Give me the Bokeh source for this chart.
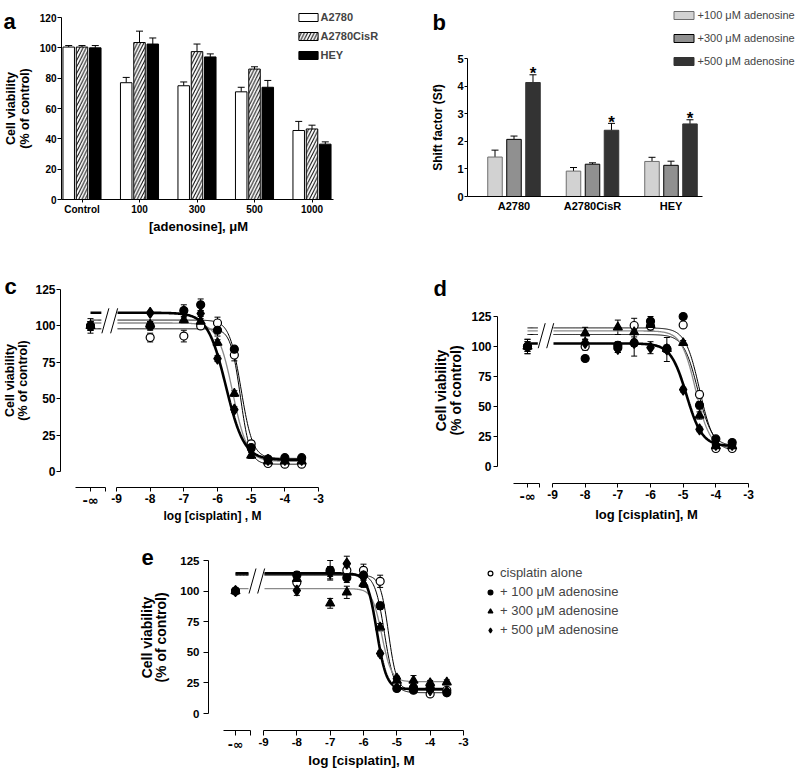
import numpy as np
from bokeh.plotting import figure
from bokeh.models import (ColumnDataSource, FixedTicker, LinearAxis, Range1d, Whisker,
                          TeeHead, Legend, LegendItem, Label, CanvasTexture, Plot)
from bokeh.core.properties import value
from bokeh.layouts import column, row
from bokeh.embed import file_html
from bokeh.resources import INLINE

FONT = "Liberation Sans"

# ---------------- panel a data ----------------
adenosine_labels = ["Control", "100", "300", "500", "1000"]
a_series = ["A2780", "A2780CisR", "HEY"]
a2780_viab = [100.5, 77.0, 75.0, 71.0, 45.5]
a2780_err = [1.0, 3.5, 2.5, 3.0, 6.0]
cisr_viab = [100.5, 103.5, 97.5, 86.0, 46.5]
cisr_err = [1.0, 7.5, 5.0, 1.5, 2.5]
hey_viab = [100.0, 102.5, 94.0, 74.0, 36.5]
hey_err = [1.5, 4.0, 2.0, 4.5, 1.5]
a_yticks = [0, 20, 40, 60, 80, 100, 120]

# ---------------- panel b data ----------------
cell_lines = ["A2780", "A2780CisR", "HEY"]
b_series = ["+100 \u03bcM adenosine", "+300 \u03bcM adenosine", "+500 \u03bcM adenosine"]
sf_100 = [1.43, 0.92, 1.27]
sf_100_err = [0.25, 0.13, 0.15]
sf_300 = [2.07, 1.17, 1.13]
sf_300_err = [0.12, 0.05, 0.15]
sf_500 = [4.13, 2.40, 2.63]
sf_500_err = [0.28, 0.25, 0.15]
sf_500_sig = ["*", "*", "*"]
b_yticks = [0, 1, 2, 3, 4, 5]

# ---------------- panels c-e data ----------------
log_cisplatin = [-np.inf, -8, -7, -6.5, -6, -5.5, -5, -4.5, -4, -3.5]
x_tick_values = [-9, -8, -7, -6, -5, -4, -3]
x_tick_labels = ["-9", "-8", "-7", "-6", "-5", "-4", "-3"]
inf_tick_label = "-\u221e"
viab_yticks = [0, 25, 50, 75, 100, 125]
treatments = ["cisplatin alone", "+ 100 \u03bcM adenosine",
              "+ 300 \u03bcM adenosine", "+ 500 \u03bcM adenosine"]

# c (A2780)
c_alone = [100, 92, 93, 100, 102, 80, 19, 5.5, 5, 5]
c_alone_err = [3, 3, 4, 2, 4, 4, 2, 1, 1, 1]
c_ado100 = [100, 100, 110.5, 114.5, 97, 84, 16.5, 8.5, 9.5, 9.5]
c_ado100_err = [5, 3, 4, 4, 4, 2, 2, 1, 1, 1]
c_ado300 = [100, 101, 104, 103, 88.5, 53.5, 11, 7, 7, 7]
c_ado300_err = [3, 2, 2, 2, 2, 2, 2, 1, 1, 1]
c_ado500 = [100, 109, 110, 108.5, 77.5, 42.5, 15, 8, 8, 8]
c_ado500_err = [3, 1, 2, 2, 2, 2, 1, 1, 1, 1]
# fitted curve parameters: top, bottom, logIC50, hill
c_fit_alone = [98, 5, -5.32, 3.0]
c_fit_ado100 = [104, 9, -5.3, 2.5]
c_fit_ado300 = [102, 7, -5.55, 2.0]
c_fit_ado500 = [109, 8, -5.75, 1.6]

# d (A2780CisR)
d_alone = [100, 100, 99, 117.5, 117, 98, 118, 60, 15, 15]
d_alone_err = [6, 3, 4, 6, 4, 3, 2, 3, 2, 2]
d_ado100 = [100, 90, 101, 103, 121, 98, 125, 51, 23, 20]
d_ado100_err = [6, 2, 3, 3, 4, 3, 2, 3, 2, 2]
d_ado300 = [100, 111, 116, 112, 118, 98, 103, 42.5, 17, 17]
d_ado300_err = [4, 5, 6, 4, 4, 3, 2, 3, 2, 2]
d_ado500 = [100, 103, 98, 103, 99, 97.5, 64, 31, 18, 18]
d_ado500_err = [4, 3, 3, 11, 5, 10, 2, 2, 2, 2]
d_fit_alone = [115.5, 13, -4.5, 2.0]
d_fit_ado100 = [110, 17, -4.55, 2.0]
d_fit_ado300 = [113, 15, -4.62, 2.0]
d_fit_ado500 = [102.5, 17, -4.9, 1.8]

# e (HEY)
e_alone = [100, 107, 116, 117, 117, 108, 24, 21, 16, 19]
e_alone_err = [2, 3, 4, 3, 5, 5, 2, 2, 2, 2]
e_ado100 = [100, 113, 117, 111, 113, 88, 20.5, 19, 21, 17]
e_ado100_err = [2, 3, 8, 4, 3, 3, 2, 2, 2, 2]
e_ado300 = [100, 110, 90, 99, 106, 70.5, 27, 27, 25, 25.5]
e_ado300_err = [2, 3, 4, 5, 3, 3, 3, 4, 2, 2]
e_ado500 = [100, 100.5, 115, 122.5, 112, 49, 28.5, 22, 19, 18]
e_ado500_err = [2, 4, 5, 6, 3, 2, 2, 2, 2, 2]
e_fit_alone = [113, 19, -5.25, 3.5]
e_fit_ado100 = [114, 17, -5.37, 3.0]
e_fit_ado300 = [102, 26, -5.45, 3.0]
e_fit_ado500 = [114.5, 20, -5.6, 3.0]

CURVE_GAP = (-9.45, -8.97)
SLASH_X = [-9.33, -9.07]
EXTRA = {"frame_align": False} if "frame_align" in Plot.properties() else {}


def logistic(x, top, bottom, logec50, hill):
    return bottom + (top - bottom) / (1 + 10 ** ((x - logec50) * hill))


class Geo:
    """Maps page pixels of the picture to data values of one panel."""
    def __init__(self, ox, oy, w, h, px0, vx0, ppx, py0, vy0, ppy):
        self.ox, self.oy, self.w, self.h = ox, oy, w, h
        self.px0, self.vx0, self.ppx = px0, vx0, ppx
        self.py0, self.vy0, self.ppy = py0, vy0, ppy

    def x(self, px):
        return self.vx0 + (px - self.px0) / self.ppx

    def y(self, py):
        return self.vy0 - (py - self.py0) / self.ppy

    @property
    def xr(self):
        return (self.x(self.ox), self.x(self.ox + self.w))

    @property
    def yr(self):
        return (self.y(self.oy + self.h), self.y(self.oy))

    def loc(self, px, py):
        return (px - self.ox, self.oy + self.h - py)


def make_fig(g):
    p = figure(width=g.w, height=g.h, x_range=Range1d(*g.xr), y_range=Range1d(*g.yr),
               output_backend="svg", toolbar_location=None,
               x_axis_location=None, y_axis_location=None, min_border=0, **EXTRA)
    p.min_border_left = p.min_border_right = p.min_border_top = p.min_border_bottom = 0
    for gr in p.grid:
        gr.visible = False
    p.outline_line_color = None
    p.background_fill_color = "white"
    p.border_fill_color = "white"
    return p


def add_axis(p, side, loc, bounds, ticks, size, tick_out=4, standoff=2,
             overrides=None, minor=None, font=FONT):
    ax = LinearAxis(fixed_location=loc, bounds=bounds,
                    ticker=FixedTicker(ticks=ticks, minor_ticks=minor or []))
    if overrides:
        ax.major_label_overrides = overrides
    ax.axis_line_color = "black"
    ax.axis_line_width = 1
    ax.major_tick_line_color = "black"
    ax.major_tick_out = tick_out
    ax.major_tick_in = 0
    ax.minor_tick_line_color = "black" if minor else None
    ax.minor_tick_out = tick_out
    ax.minor_tick_in = 0
    ax.major_label_text_font = font
    ax.major_label_text_font_style = "bold"
    ax.major_label_text_font_size = f"{size}px"
    ax.major_label_text_color = "black"
    ax.major_label_standoff = standoff
    p.add_layout(ax, side)
    return ax


def text(p, g, px, py, txt, size, style="bold", angle=0.0, align="center", baseline="middle"):
    p.add_layout(Label(x=g.x(px), y=g.y(py), text=txt, angle=angle,
                       text_font=FONT, text_font_size=f"{size}px", text_font_style=style,
                       text_color="black", text_align=align, text_baseline=baseline))


# ================= panel a =================
GA = Geo(0, 0, 400, 240, 81.5, 0, 57.5, 199, 0, 182 / 120)
pa = make_fig(GA)
idx = list(range(len(adenosine_labels)))
bar_w_a, bar_off_a = 0.2, 0.231
a_vals = [a2780_viab, cisr_viab, hey_viab]
a_errs = [a2780_err, cisr_err, hey_err]
a_styles = [dict(fill_color="white"),
            dict(fill_color="white", hatch_pattern="/", hatch_color="black",
                 hatch_scale=6.5, hatch_weight=1),
            dict(fill_color="black")]
items_a = []
for k, (name, vals, errs, st) in enumerate(zip(a_series, a_vals, a_errs, a_styles)):
    xs = [i + (k - 1) * bar_off_a for i in idx]
    src = ColumnDataSource(dict(x=xs, top=vals, upper=[v + e for v, e in zip(vals, errs)]))
    pa.add_layout(Whisker(source=src, base="x", upper="upper", lower="top", dimension="height",
                          line_color="black", line_width=1, level="underlay",
                          upper_head=TeeHead(size=7, line_color="black", line_width=1),
                          lower_head=None))
    r = pa.vbar(x="x", top="top", bottom=0, width=bar_w_a, source=src,
                line_color="black", line_width=1, **st)
    items_a.append(LegendItem(label=name, renderers=[r]))

add_axis(pa, "below", 0, (GA.x(61), GA.x(333)), idx, 10, tick_out=3, standoff=1,
         overrides={i: lab for i, lab in zip(idx, adenosine_labels)})
add_axis(pa, "left", GA.x(61), (0, 120), a_yticks, 10, tick_out=4, standoff=1)
text(pa, GA, 198, 226, "[adenosine], \u03bcM", 13)
text(pa, GA, 10.5, 108, "Cell viability", 12.5, angle=np.pi / 2)
text(pa, GA, 24.5, 108, "(% of control)", 12.5, angle=np.pi / 2)
text(pa, GA, 3, 21, "a", 22, align="left", baseline="alphabetic")
pa.add_layout(Legend(items=items_a, location=GA.loc(295.6, 61), glyph_width=24, glyph_height=10,
                     label_height=10, spacing=7, padding=0, margin=0, label_standoff=1,
                     label_text_font=FONT, label_text_font_size="11px",
                     label_text_font_style="bold", border_line_color=None,
                     background_fill_alpha=0))

# ================= panel b =================
GB = Geo(400, 0, 396, 240, 513.5, 0, 78.5, 196, 0, 27.6)
pb = make_fig(GB)
idx_b = list(range(len(cell_lines)))
bar_w_b, bar_off_b = 0.185, 0.242
b_vals = [sf_100, sf_300, sf_500]
b_errs = [sf_100_err, sf_300_err, sf_500_err]
checker = CanvasTexture(code="""
const h = scale / 2;
ctx.fillStyle = 'white'; ctx.fillRect(0, 0, scale, scale);
ctx.fillStyle = 'black'; ctx.fillRect(0, 0, h, h); ctx.fillRect(h, h, h, h);
""")
b_styles = [dict(fill_color="#d2d2d2", line_color="#6e6e6e"),
            dict(fill_color="white", line_color="black", hatch_pattern=value("checker"),
                 hatch_extra={"checker": checker}, hatch_scale=8),
            dict(fill_color="#333333", line_color="#333333")]
items_b = []
for k, (name, vals, errs, st) in enumerate(zip(b_series, b_vals, b_errs, b_styles)):
    xs = [i + (k - 1) * bar_off_b for i in idx_b]
    src = ColumnDataSource(dict(x=xs, top=vals, upper=[v + e for v, e in zip(vals, errs)]))
    pb.add_layout(Whisker(source=src, base="x", upper="upper", lower="top", dimension="height",
                          line_color="black", line_width=1, level="underlay",
                          upper_head=TeeHead(size=7, line_color="black", line_width=1),
                          lower_head=None))
    r = pb.vbar(x="x", top="top", bottom=0, width=bar_w_b, source=src, line_width=1, **st)
    items_b.append(LegendItem(label=name, renderers=[r]))
    if k == 2:
        pb.text(x=xs, y=[v + e for v, e in zip(vals, errs)], text=sf_500_sig,
                text_align="center", text_baseline="alphabetic", y_offset=-1,
                text_font=value(FONT), text_font_size="17px", text_font_style="bold",
                text_color="black")

add_axis(pb, "below", 0, (GB.x(467), GB.x(702)), idx_b, 11, tick_out=0, standoff=3,
         overrides={i: lab for i, lab in zip(idx_b, cell_lines)})
add_axis(pb, "left", GB.x(467), (0, 5), b_yticks, 11, tick_out=3, standoff=1)
text(pb, GB, 437, 127, "Shift factor (Sf)", 12, angle=np.pi / 2)
text(pb, GB, 432, 22, "b", 22, align="left", baseline="alphabetic")
pb.add_layout(Legend(items=items_b, location=GB.loc(670.5, 66.5), glyph_width=25, glyph_height=10,
                     label_height=10, spacing=11, padding=0, margin=0, label_standoff=2,
                     label_text_font=FONT, label_text_font_size="11px",
                     label_text_font_style="normal", border_line_color=None,
                     background_fill_alpha=0))

# ================= dose-response panels =================
treat_styles = [
    dict(marker="circle", size=8, fill_color="white", curve_color="black", curve_width=1),
    dict(marker="circle", size=8, fill_color="black", curve_color="black", curve_width=1),
    dict(marker="triangle", size=9, fill_color="black", curve_color="#8a8a8a", curve_width=1.3),
    dict(marker="diamond", size=11, fill_color="black", curve_color="black", curve_width=2.6),
]


def dose_panel(g, yaxis_px, xaxis_py, inf_px, inf_span_px, vals, errs, fits,
               tick_size, tick_out, ystandoff, xlabel, xlabel_pos, xlabel_size,
               ylab_px, ylab_py, ylab_size, let, let_pos):
    p = make_fig(g)
    inf_pos = g.x(inf_px)
    xpos = [inf_pos if np.isinf(v) else v for v in log_cisplatin]
    ax_y = g.y(xaxis_py)
    add_axis(p, "below", ax_y, (-9, -3), x_tick_values, tick_size, tick_out=tick_out,
             standoff=2, overrides={v: s for v, s in zip(x_tick_values, x_tick_labels)})
    add_axis(p, "below", ax_y, (g.x(inf_span_px[0]), g.x(inf_span_px[1])), [inf_pos],
             tick_size + 1, tick_out=tick_out, standoff=1, overrides={inf_pos: inf_tick_label},
             minor=[g.x(inf_span_px[1])], font="DejaVu Sans")
    add_axis(p, "left", g.x(yaxis_px), (0, 125), viab_yticks, tick_size, tick_out=tick_out,
             standoff=ystandoff)
    text(p, g, xlabel_pos[0], xlabel_pos[1], xlabel, xlabel_size)
    text(p, g, ylab_px[0], ylab_py, "Cell viability", ylab_size, angle=np.pi / 2)
    text(p, g, ylab_px[1], ylab_py, "(% of control)", ylab_size, angle=np.pi / 2)
    text(p, g, let_pos[0], let_pos[1], let, 22, align="left", baseline="alphabetic")

    tops = [f[0] for f in fits]
    for st, f in zip(treat_styles, fits):
        x1 = np.linspace(inf_pos, CURVE_GAP[0], 10)
        x2 = np.linspace(CURVE_GAP[1], -3.45, 300)
        p.line(x1, logistic(x1, *f), line_color=st["curve_color"], line_width=st["curve_width"])
        p.line(x2, logistic(x2, *f), line_color=st["curve_color"], line_width=st["curve_width"])
    mid = (max(tops) + min(tops)) / 2
    half = 12.5 / g.ppy
    p.segment(x0=[s - 3.5 / g.ppx for s in SLASH_X], y0=[mid - half] * 2,
              x1=[s + 3.5 / g.ppx for s in SLASH_X], y1=[mid + half] * 2,
              line_color="black", line_width=1)
    rends = []
    for st, v, e in zip(treat_styles, vals, errs):
        src = ColumnDataSource(dict(x=xpos, y=v, upper=[a + b for a, b in zip(v, e)],
                                    lower=[a - b for a, b in zip(v, e)]))
        p.add_layout(Whisker(source=src, base="x", upper="upper", lower="lower",
                             dimension="height", line_color="black", line_width=1,
                             level="underlay",
                             upper_head=TeeHead(size=6, line_color="black", line_width=1),
                             lower_head=TeeHead(size=6, line_color="black", line_width=1)))
        r = p.scatter("x", "y", source=src, marker=st["marker"], size=st["size"],
                      fill_color=st["fill_color"], line_color="black", line_width=1.2)
        rends.append(r)
    return p, rends


GC = Geo(0, 240, 400, 285, 116, -9, 33.67, 471, 0, 1.456)
pc, _ = dose_panel(GC, 60, 487, 90, (75, 105),
                   [c_alone, c_ado100, c_ado300, c_ado500],
                   [c_alone_err, c_ado100_err, c_ado300_err, c_ado500_err],
                   [c_fit_alone, c_fit_ado100, c_fit_ado300, c_fit_ado500],
                   12, 4, 1, "log [cisplatin] , M", (212, 515), 12,
                   (9, 22.5), 380, 12.5, "c", (4, 286))

GD = Geo(400, 240, 396, 285, 552, -9, 32.67, 466, 0, 1.2)
pd_, _ = dose_panel(GD, 497, 483, 527, (513, 539),
                    [d_alone, d_ado100, d_ado300, d_ado500],
                    [d_alone_err, d_ado100_err, d_ado300_err, d_ado500_err],
                    [d_fit_alone, d_fit_ado100, d_fit_ado300, d_fit_ado500],
                    12, 4, 2, "log [cisplatin], M", (646, 514), 13,
                    (440, 455), 390, 14, "d", (433, 288))

GE = Geo(0, 525, 796, 247, 263, -9, 33.33, 713, 0, 1.224)
pe, rends_e = dose_panel(GE, 208, 730, 235, (223, 250),
                         [e_alone, e_ado100, e_ado300, e_ado500],
                         [e_alone_err, e_ado100_err, e_ado300_err, e_ado500_err],
                         [e_fit_alone, e_fit_ado100, e_fit_ado300, e_fit_ado500],
                         11.5, 5, 4, "log [cisplatin], M", (361, 760), 13.5,
                         (146, 160.5), 637, 14, "e", (141, 557))
pe.add_layout(Legend(items=[LegendItem(label=t, renderers=[r]) for t, r in zip(treatments, rends_e)],
                     location=GE.loc(484, 637), glyph_width=12, glyph_height=14, label_height=14,
                     spacing=4, padding=0, margin=0, label_standoff=4,
                     label_text_font=FONT, label_text_font_size="13px",
                     label_text_font_style="normal", border_line_color=None,
                     background_fill_alpha=0))

layout = column(row(pa, pb), row(pc, pd_), row(pe))
open("out.html", "w").write(file_html(layout, INLINE))
